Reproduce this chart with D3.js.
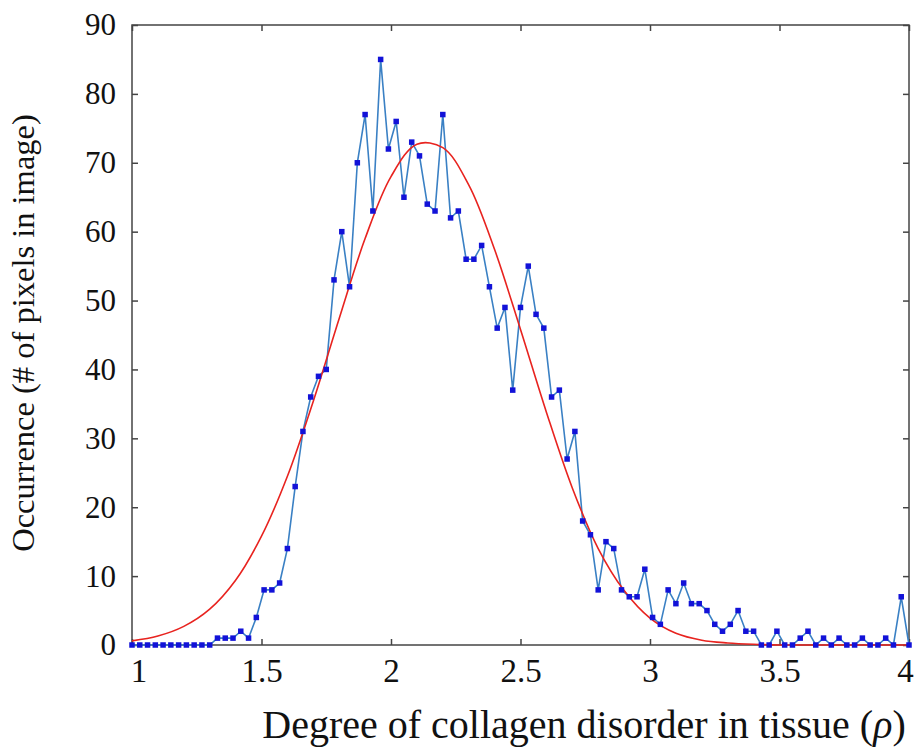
<!DOCTYPE html>
<html>
<head>
<meta charset="utf-8">
<script src="https://cdn.jsdelivr.net/npm/d3@7"></script>
<style>
  body { margin: 0; background: #fff; }
</style>
</head>
<body>
<div id="chart"></div>
<script>
// histogram bins: rho from 1 to 4 in steps of 0.03 (101 bins)
const binStart = 1;
const binStep = 0.03;
const counts = [
  0, 0, 0, 0, 0, 0, 0, 0, 0, 0,
  0, 1, 1, 1, 2, 1, 4, 8, 8, 9,
  14, 23, 31, 36, 39, 40, 53, 60, 52, 70,
  77, 63, 85, 72, 76, 65, 73, 71, 64, 63,
  77, 62, 63, 56, 56, 58, 52, 46, 49, 37,
  49, 55, 48, 46, 36, 37, 27, 31, 18, 16,
  8, 15, 14, 8, 7, 7, 11, 4, 3, 8,
  6, 9, 6, 6, 5, 3, 2, 3, 5, 2,
  2, 0, 0, 2, 0, 0, 1, 2, 0, 1,
  0, 1, 0, 0, 1, 0, 0, 1, 0, 7,
  0
];

// fitted curve, every 0.1
const fitX = [1.0, 1.1, 1.2, 1.3, 1.4, 1.5, 1.6, 1.7, 1.8, 1.9, 2.0, 2.1, 2.2, 2.3, 2.4, 2.5,
  2.6, 2.7, 2.8, 2.9, 3.0, 3.1, 3.2, 3.3, 3.4, 3.5, 3.6, 3.7, 3.8, 3.9, 4.0];
const fitY = [0.6, 1.3, 2.7, 5.2, 9.4, 15.8, 24.5, 35.4, 47.4, 59, 68, 72.7, 72.2, 66.8, 57.4, 45.8,
  33.8, 22.8, 14, 7.9, 3.9, 1.7, 0.7, 0.3, 0.1, 0, 0, 0, 0, 0, 0];

const xTicks = [1, 1.5, 2, 2.5, 3, 3.5, 4];
const yTicks = [0, 10, 20, 30, 40, 50, 60, 70, 80, 90];

const serif = '"Liberation Serif", "Times New Roman", Times, "DejaVu Serif", serif';

const width = 914;
const height = 747;
const margin = { top: 25, right: 5, bottom: 102, left: 132 };
const innerW = width - margin.left - margin.right;
const innerH = height - margin.top - margin.bottom;

const svg = d3.select("#chart").append("svg")
  .attr("width", width)
  .attr("height", height)
  .style("font-family", serif);

const g = svg.append("g")
  .attr("transform", `translate(${margin.left},${margin.top})`);

const x = d3.scaleLinear().domain([1, 4]).range([0, innerW]);
const y = d3.scaleLinear().domain([0, 90]).range([innerH, 0]);

const points = counts.map((c, i) => ({ x: binStart + i * binStep, y: c }));
const fit = fitX.map((v, i) => ({ x: v, y: fitY[i] }));

// frame
g.append("rect")
  .attr("width", innerW)
  .attr("height", innerH)
  .attr("fill", "none")
  .attr("stroke", "#444")
  .attr("stroke-width", 1.5);

// axes, ticks pointing inward
const xAxis = g.append("g")
  .attr("transform", `translate(0,${innerH})`)
  .call(d3.axisBottom(x).tickValues(xTicks).tickSize(-6).tickPadding(14).tickFormat(d3.format("")));
const xTop = g.append("g")
  .call(d3.axisTop(x).tickValues(xTicks).tickSize(-6).tickFormat(""));
const yAxis = g.append("g")
  .call(d3.axisLeft(y).tickValues(yTicks).tickSize(-6).tickPadding(16));
const yRight = g.append("g")
  .attr("transform", `translate(${innerW},0)`)
  .call(d3.axisRight(y).tickValues(yTicks).tickSize(-6).tickFormat(""));

[xAxis, xTop, yAxis, yRight].forEach(a => {
  a.attr("font-family", serif);
  a.select(".domain").remove();
  a.selectAll(".tick line").attr("stroke", "#444").attr("stroke-width", 1.5);
  a.selectAll("text")
    .style("font-family", serif)
    .attr("fill", "#111");
});
yAxis.selectAll("text").style("font-size", "31px");
xAxis.selectAll("text").style("font-size", "33px");
// end labels sit just inside the frame
xAxis.selectAll(".tick text").filter(d => d === 4).attr("dx", "-0.12em");
xAxis.selectAll(".tick text").filter(d => d === 1).attr("dx", "0.2em");

// data line
const line = d3.line().x(d => x(d.x)).y(d => y(d.y));

g.append("path")
  .datum(points)
  .attr("d", line)
  .attr("fill", "none")
  .attr("stroke", "#3a80c4")
  .attr("stroke-width", 1.6);

// gaussian fit
g.append("path")
  .datum(fit)
  .attr("d", d3.line().curve(d3.curveCatmullRom).x(d => x(d.x)).y(d => y(d.y)))
  .attr("fill", "none")
  .attr("stroke", "#e8231f")
  .attr("stroke-width", 1.6);

// markers
g.selectAll(".data-point")
  .data(points)
  .enter().append("rect")
  .attr("class", "data-point")
  .attr("x", d => x(d.x) - 2.75)
  .attr("y", d => y(d.y) - 2.75)
  .attr("width", 5.5)
  .attr("height", 5.5)
  .attr("fill", "#1212d8");

// axis titles
const xTitle = svg.append("text")
  .attr("x", 584)
  .attr("y", 738)
  .attr("text-anchor", "middle")
  .attr("fill", "#111")
  .style("font-family", serif)
  .style("font-size", "40px");
xTitle.append("tspan").text("Degree of collagen disorder in tissue (");
xTitle.append("tspan").style("font-style", "italic").text("ρ");
xTitle.append("tspan").text(")");

svg.append("text")
  .attr("transform", `translate(34,${margin.top + 308}) rotate(-90)`)
  .attr("text-anchor", "middle")
  .attr("fill", "#111")
  .style("font-family", serif)
  .style("font-size", "32.5px")
  .text("Occurrence (# of pixels in image)");
</script>
</body>
</html>
